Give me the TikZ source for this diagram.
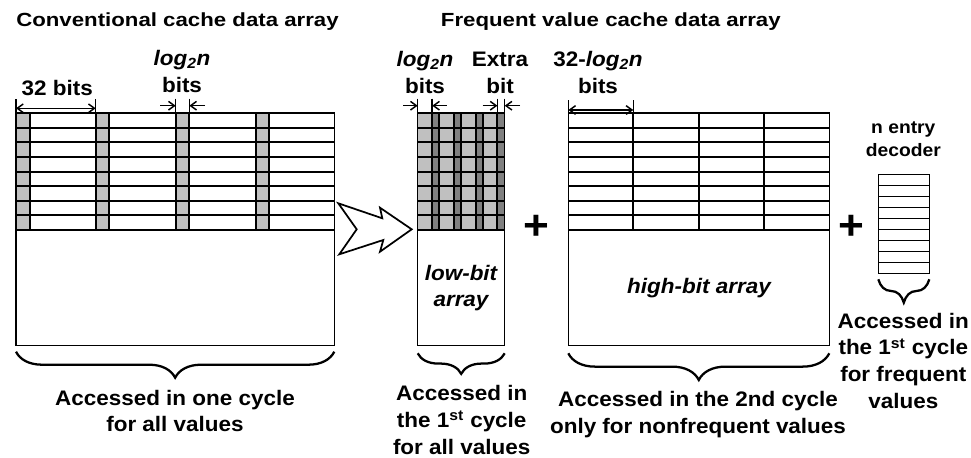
\documentclass[tikz,border=0pt]{standalone}
\usepackage{fontspec}
\setmainfont{Liberation Sans}[FakeStretch=1.07]
\newfontfamily\ttlfont{Liberation Sans}[FakeStretch=1.17]
\usetikzlibrary{arrows.meta,decorations.pathreplacing}
\definecolor{cellgray}{HTML}{C0C0C0}
\definecolor{darkcell}{HTML}{808080}
\begin{document}
\begin{tikzpicture}[x=0.75pt,y=-0.75pt,
  boxline/.style={line width=1pt},
  gridline/.style={line width=1.5pt},
  tickline/.style={line width=1.1pt},
  dimarrow/.style={line width=1.1pt,-{Straight Barb[length=4.5pt,width=6.5pt]}},
  dimboth/.style={line width=1.1pt,{Straight Barb[length=4.5pt,width=6.5pt]}-{Straight Barb[length=4.5pt,width=6.5pt]}},
  brc/.style={decorate,line width=1.7pt,decoration={brace,amplitude=#1}},
  ttl/.style={font=\ttlfont\bfseries\fontsize{14.25}{17}\selectfont,inner sep=0pt,anchor=base west},
  lbl/.style={font=\bfseries\fontsize{15.75}{20}\selectfont,align=center,inner sep=0pt,anchor=base},
  captxt/.style={font=\bfseries\fontsize{15.75}{20}\selectfont,align=center,inner sep=0pt,anchor=base},
  inlbl/.style={font=\bfseries\itshape\fontsize{15.75}{19.5}\selectfont,align=center,inner sep=0pt,anchor=base},
  plussign/.style={font=\bfseries\fontsize{31}{31}\selectfont,inner sep=0pt,anchor=base}]
\useasboundingbox (0,0) rectangle (971,457);

% ---------- titles ----------
\node[ttl] (t1) at (16,26.5) {Conventional cache data array};
\node[ttl] (t2) at (440.7,26.5) {Frequent value cache data array};

% ---------- conventional array ----------
\foreach \c in {16,95.7,175.7,255.7}
  \fill[cellgray] (\c,113) rectangle (\c+13.6,230);
\foreach \k in {1,...,8}
  \draw[gridline] (16,113+14.625*\k) -- (334.3,113+14.625*\k);
\foreach \c in {29.6,95.7,109.3,175.7,189.3,255.7,269.3}
  \draw[gridline] (\c,113) -- (\c,230);
\draw[boxline] (16,113) rectangle (334.3,345.7);

% dimension: 32 bits
\coordinate (cA) at (16,108.3);
\coordinate (cB) at (95.7,108.3);
\draw[tickline] (16,99) -- (16,113) (95.7,99) -- (95.7,113);
\draw[dimboth] (cA) -- (cB);
\node[lbl] (l32) at (57.2,95) {32 bits};

% dimension: log2n bits
\coordinate (cC) at (160,105.7);
\coordinate (cD) at (175.7,105.7);
\coordinate (cE) at (205,105.7);
\coordinate (cF) at (189.3,105.7);
\draw[tickline] (175.7,98.5) -- (175.7,113) (189.3,98.5) -- (189.3,113);
\draw[dimarrow] (cC) -- (cD);
\draw[dimarrow] (cE) -- (cF);
\node[lbl] (llog) at (182,92) {\itshape log\textsubscript{2}n\\bits};

% ---------- transform arrow ----------
\draw[line width=1.3pt,line join=miter,fill=white]
  (338.3,203.3) -- (382.3,218.3) -- (380,207.7) -- (411.7,229.3)
  -- (380,251.7) -- (383.3,240) -- (339.3,254.3) -- (356.7,229.3) -- cycle;

% ---------- low-bit array ----------
\fill[cellgray] (417.7,113) rectangle (504.7,230);
\foreach \c in {432.2,453.95,475.7,497.45}
  \fill[darkcell] (\c,113) rectangle (\c+7.25,230);
\foreach \k in {1,...,8}
  \draw[gridline] (417.7,113+14.625*\k) -- (504.7,113+14.625*\k);
\foreach \c in {432.2,439.45,453.95,461.2,475.7,482.95,497.45}
  \draw[gridline] (\c,113) -- (\c,230);
\draw[boxline] (417.7,113) rectangle (504.7,345.3);
\node[inlbl] (lowlbl) at (461,306.7) {low-bit\\array};

% dimension: log2n bits / extra bit
\draw[tickline] (417.7,98.5) -- (417.7,113) (432.2,98.5) -- (432.2,113);
\draw[tickline] (497.45,98.5) -- (497.45,113) (504.7,98.5) -- (504.7,113);
\coordinate (mA) at (403.3,105.7);
\coordinate (mB) at (417.7,105.7);
\coordinate (mC) at (446.7,105.7);
\coordinate (mD) at (432.2,105.7);
\coordinate (mE) at (482.7,105.7);
\coordinate (mF) at (497.45,105.7);
\coordinate (mG) at (520,105.7);
\coordinate (mH) at (504.7,105.7);
\draw[dimarrow] (mA) -- (mB);
\draw[dimarrow] (mC) -- (mD);
\draw[dimarrow] (mE) -- (mF);
\draw[dimarrow] (mG) -- (mH);
\node[lbl] (mlog) at (425,93) {\itshape log\textsubscript{2}n\\bits};
\node[lbl] (mext) at (500,93) {Extra\\bit};

\node[plussign] (p1) at (536.7,239) {+};

% ---------- high-bit array ----------
\foreach \k in {1,...,8}
  \draw[gridline] (568.3,113+14.625*\k) -- (829.3,113+14.625*\k);
\foreach \c in {633.3,699,764.3}
  \draw[gridline] (\c,113) -- (\c,230);
\draw[boxline] (568.3,113) rectangle (829.3,345.7);
\node[inlbl] (highlbl) at (699,293.3) {high-bit array};

\draw[tickline] (568.3,100) -- (568.3,113) (633.3,100) -- (633.3,113);
\coordinate (hA) at (568.3,110);
\coordinate (hB) at (633.3,110);
\draw[dimboth] (hA) -- (hB);
\node[lbl] (hlog) at (598,93) {32-\textit{log\textsubscript{2}n}\\bits};

\node[plussign] (p2) at (851.7,239) {+};

% ---------- n entry decoder ----------
\foreach \k in {1,...,8}
  \draw[line width=1.2pt] (878.3,174.3+11*\k) -- (929.3,174.3+11*\k);
\draw[boxline] (878.3,174.3) rectangle (929.3,273.3);
\node[font=\bfseries\fontsize{13.5}{17}\selectfont,align=center,inner sep=0pt,anchor=base]
  (declbl) at (903.3,156) {n entry\\decoder};

% ---------- braces and captions ----------
\coordinate (b1r) at (334.3,351.7);
\coordinate (b1l) at (16,351.7);
\draw[brc=19.5pt] (b1r) -- (b1l);
\node[captxt] (c1) at (175,431.7) {Accessed in one cycle\\for all values};

\coordinate (b2r) at (504.7,353.3);
\coordinate (b2l) at (417.7,353.3);
\draw[brc=15.4pt] (b2r) -- (b2l);
\node[captxt] (c2) at (461.7,454) {Accessed in\\the 1\textsuperscript{st} cycle\\for all values};

\coordinate (b3r) at (829.3,353.3);
\coordinate (b3l) at (568.3,353.3);
\draw[brc=20pt] (b3r) -- (b3l);
\node[captxt] (c3) at (698,433.3) {Accessed in the 2nd cycle\\only for nonfrequent values};

\coordinate (b4r) at (929.3,279.3);
\coordinate (b4l) at (878.3,279.3);
\draw[brc=17.5pt] (b4r) -- (b4l);
\node[captxt] (c4) at (903.3,408.3) {Accessed in\\the 1\textsuperscript{st} cycle\\for frequent\\values};
\end{tikzpicture}
\end{document}
